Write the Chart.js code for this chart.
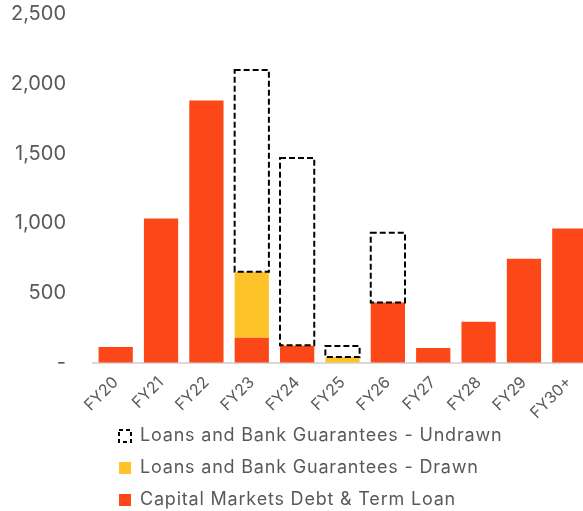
<!DOCTYPE html>
<html>
<head>
<meta charset="utf-8">
<script src="https://cdn.jsdelivr.net/npm/chart.js@4"></script>
<style>
  html, body { margin: 0; padding: 0; background: #fff; overflow: hidden; }
  #wrap { position: relative; width: 592px; height: 511px; }
</style>
</head>
<body>
<div id="wrap"><canvas id="debtChart"></canvas></div>
<script>
// values (A$m)
var years = ['FY20', 'FY21', 'FY22', 'FY23', 'FY24', 'FY25', 'FY26', 'FY27', 'FY28', 'FY29', 'FY30+'];
var capitalMarkets = [115, 1035, 1880, 180, 122, 0, 433, 108, 295, 747, 963];
var drawn = [0, 0, 0, 474, 6, 43, 0, 0, 0, 0, 0];
var undrawn = [0, 0, 0, 1444, 1340, 79, 500, 0, 0, 0, 0];
var yTicks = [0, 500, 1000, 1500, 2000, 2500];

var red = '#FC4819';
var yellow = '#FFC32A';
var grey = '#595959';
var font = 'Inter';

// bar elements can't dash their border, so stroke the undrawn boxes here
var dashedBoxes = {
  id: 'dashedBoxes',
  afterDatasetsDraw: function(chart) {
    var meta = chart.getDatasetMeta(2);
    var ctx = chart.ctx;
    ctx.save();
    ctx.strokeStyle = '#000';
    ctx.lineWidth = 2;
    ctx.setLineDash([6, 3]);
    meta.data.forEach(function(bar, i) {
      if (!undrawn[i]) return;
      var p = bar.getProps(['x', 'y', 'base', 'width'], true);
      ctx.strokeRect(p.x - p.width / 2, p.y, p.width, p.base - p.y);
    });
    ctx.restore();
  }
};

// legend rows sit left aligned under the plot, with a wider letter spacing
var legendTweak = {
  id: 'legendTweak',
  afterInit: function(chart) {
    var legend = chart.legend;
    var draw = legend.draw;
    legend.draw = function() {
      chart.ctx.letterSpacing = '0.8px';
      draw.apply(this, arguments);
      chart.ctx.letterSpacing = '0px';
    };
  },
  afterLayout: function(chart) {
    chart.legend.left += 105;
    // let the long rotated labels run past the shortened axis box
    chart.scales.x.bottom += 14;
  }
};

new Chart(document.getElementById('debtChart'), {
  type: 'bar',
  data: {
    labels: years,
    datasets: [{
      label: 'Capital Markets Debt & Term Loan',
      data: capitalMarkets,
      backgroundColor: red
    }, {
      label: 'Loans and Bank Guarantees - Drawn',
      data: drawn,
      backgroundColor: yellow
    }, {
      label: 'Loans and Bank Guarantees - Undrawn',
      data: undrawn,
      backgroundColor: 'rgba(255,255,255,0)'
    }]
  },
  options: {
    responsive: true,
    maintainAspectRatio: false,
    animation: false,
    layout: { padding: { top: 0, left: 0, right: 0, bottom: -8 } },
    datasets: {
      bar: { categoryPercentage: 1, barPercentage: 0.755, borderWidth: 0 }
    },
    scales: {
      x: {
        stacked: true,
        afterFit: function(axis) {
          axis.height = 50;
        },
        grid: { display: false },
        border: { color: '#D9D9D9', width: 2 },
        ticks: {
          color: grey,
          font: { family: font, size: 16 },
          minRotation: 45,
          maxRotation: 45,
          padding: 2
        }
      },
      y: {
        stacked: true,
        min: 0,
        max: 2500,
        afterBuildTicks: function(axis) {
          axis.ticks = yTicks.map(function(v) { return { value: v }; });
        },
        afterFit: function(axis) {
          axis.width = 93;
        },
        // invisible tick marks push the labels away from the bars
        grid: { display: true, drawOnChartArea: false, drawTicks: true, tickLength: 25, color: 'rgba(0,0,0,0)' },
        border: { display: false },
        ticks: {
          color: grey,
          font: { family: font, size: 20 },
          padding: 2,
          callback: function(v) { return v === 0 ? '-' : v.toLocaleString('en-US'); }
        }
      }
    },
    plugins: {
      tooltip: { enabled: false },
      legend: {
        position: 'bottom',
        align: 'start',
        reverse: true,
        labels: {
          color: grey,
          font: { family: font, size: 18 },
          boxWidth: 12,
          boxHeight: 12,
          padding: 14,
          generateLabels: function(chart) {
            var items = Chart.defaults.plugins.legend.labels.generateLabels(chart);
            items.forEach(function(it) {
              if (it.datasetIndex === 2) {
                it.fillStyle = '#fff';
                it.strokeStyle = '#000';
                it.lineWidth = 2;
                it.lineDash = [4, 3];
              } else {
                it.lineWidth = 0;
              }
            });
            return items;
          }
        }
      }
    }
  },
  plugins: [dashedBoxes, legendTweak]
});
</script>
</body>
</html>
